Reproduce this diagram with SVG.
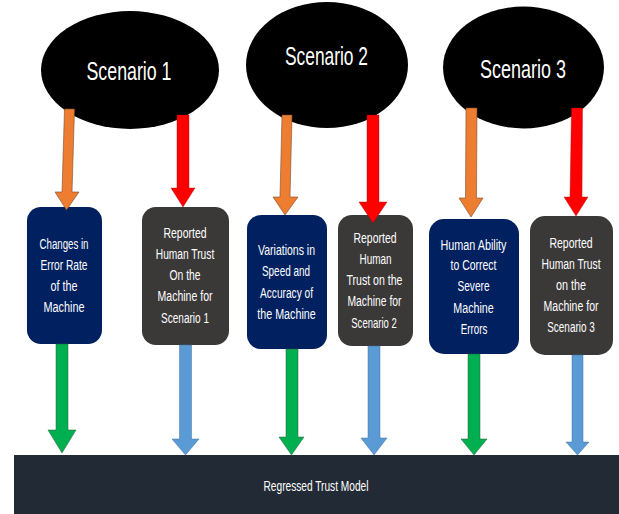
<svg xmlns="http://www.w3.org/2000/svg" width="619" height="514" viewBox="0 0 619 514">
<style>
.ell{fill:#000}
.sc{font-family:"Liberation Sans",Arial,sans-serif;font-size:26px;fill:#fff;text-anchor:middle}
.bt{font-family:"Liberation Sans",Arial,sans-serif;font-size:15.5px;fill:#fff;text-anchor:middle}
.navy{fill:#002060}
.gray{fill:#3B3838}
.or{fill:#ED7D31;stroke:#7a4a2a;stroke-width:0.6}
.rd{fill:#FF0000;stroke:#a00;stroke-width:0.4}
.gr{fill:#00B050;stroke:#2a5a3a;stroke-width:0.5}
.bl{fill:#5B9BD5;stroke:#41719C;stroke-width:0.5}
</style>
<rect width="619" height="514" fill="#fff"/>
<g id="scenario1"><ellipse class="ell" cx="130" cy="70" rx="89" ry="59"/><text class="sc" x="129" y="80" textLength="85" lengthAdjust="spacingAndGlyphs">Scenario 1</text></g>
<g id="scenario2"><ellipse class="ell" cx="327" cy="65" rx="81" ry="63"/><text class="sc" x="326.5" y="65" textLength="83" lengthAdjust="spacingAndGlyphs">Scenario 2</text></g>
<g id="scenario3"><ellipse class="ell" cx="523.5" cy="67.5" rx="80.5" ry="61"/><text class="sc" x="523" y="78" textLength="86" lengthAdjust="spacingAndGlyphs">Scenario 3</text></g>

<g id="box1"><rect class="navy" x="27" y="207" width="75" height="137" rx="14"/>
<g transform="translate(64,0) scale(0.66,1)">
<text class="bt" x="0" y="249" textLength="74.2" lengthAdjust="spacingAndGlyphs">Changes in</text>
<text class="bt" x="0" y="270" textLength="71.2" lengthAdjust="spacingAndGlyphs">Error Rate</text>
<text class="bt" x="0" y="291.5" textLength="40.9" lengthAdjust="spacingAndGlyphs">of the</text>
<text class="bt" x="0" y="312.5" textLength="62.1" lengthAdjust="spacingAndGlyphs">Machine</text></g></g>

<g id="box2"><rect class="gray" x="142" y="207" width="87" height="138" rx="14"/>
<g transform="translate(185,0) scale(0.66,1)">
<text class="bt" x="0" y="238" textLength="65.2" lengthAdjust="spacingAndGlyphs">Reported</text>
<text class="bt" x="0" y="259.5" textLength="88.6" lengthAdjust="spacingAndGlyphs">Human Trust</text>
<text class="bt" x="0" y="280.5" textLength="47" lengthAdjust="spacingAndGlyphs">On the</text>
<text class="bt" x="0" y="301.5" textLength="83.3" lengthAdjust="spacingAndGlyphs">Machine for</text>
<text class="bt" x="0" y="323" textLength="72.7" lengthAdjust="spacingAndGlyphs">Scenario 1</text></g></g>

<g id="box3"><rect class="navy" x="247" y="215" width="80" height="134" rx="14"/>
<g transform="translate(286.5,0) scale(0.66,1)">
<text class="bt" x="0" y="255" textLength="86.4" lengthAdjust="spacingAndGlyphs">Variations in</text>
<text class="bt" x="-0.8" y="276.5" textLength="72.7" lengthAdjust="spacingAndGlyphs">Speed and</text>
<text class="bt" x="0" y="298" textLength="80.3" lengthAdjust="spacingAndGlyphs">Accuracy of</text>
<text class="bt" x="0" y="319" textLength="88.6" lengthAdjust="spacingAndGlyphs">the Machine</text></g></g>

<g id="box4"><rect class="gray" x="338" y="215" width="75" height="131" rx="14"/>
<g transform="translate(375,0) scale(0.66,1)">
<text class="bt" x="0" y="243" textLength="65.2" lengthAdjust="spacingAndGlyphs">Reported</text>
<text class="bt" x="0.8" y="264" textLength="48.5" lengthAdjust="spacingAndGlyphs">Human</text>
<text class="bt" x="-0.8" y="285.5" textLength="84.8" lengthAdjust="spacingAndGlyphs">Trust on the</text>
<text class="bt" x="-0.8" y="306.5" textLength="81.8" lengthAdjust="spacingAndGlyphs">Machine for</text>
<text class="bt" x="-1.5" y="328" textLength="68.9" lengthAdjust="spacingAndGlyphs">Scenario 2</text></g></g>

<g id="box5"><rect class="navy" x="429" y="219" width="90" height="135" rx="15"/>
<g transform="translate(473.5,0) scale(0.66,1)">
<text class="bt" x="0" y="250" textLength="100" lengthAdjust="spacingAndGlyphs">Human Ability</text>
<text class="bt" x="0" y="270.5" textLength="69.7" lengthAdjust="spacingAndGlyphs">to Correct</text>
<text class="bt" x="0" y="291.5" textLength="48.5" lengthAdjust="spacingAndGlyphs">Severe</text>
<text class="bt" x="0" y="313" textLength="61.4" lengthAdjust="spacingAndGlyphs">Machine</text>
<text class="bt" x="0.8" y="334" textLength="40.2" lengthAdjust="spacingAndGlyphs">Errors</text></g></g>

<g id="box6"><rect class="gray" x="530" y="216" width="83" height="139" rx="15"/>
<g transform="translate(571,0) scale(0.66,1)">
<text class="bt" x="0" y="248" textLength="65.2" lengthAdjust="spacingAndGlyphs">Reported</text>
<text class="bt" x="0" y="269" textLength="89.4" lengthAdjust="spacingAndGlyphs">Human Trust</text>
<text class="bt" x="0" y="290.5" textLength="45.5" lengthAdjust="spacingAndGlyphs">on the</text>
<text class="bt" x="0" y="311.5" textLength="83.3" lengthAdjust="spacingAndGlyphs">Machine for</text>
<text class="bt" x="0" y="332.5" textLength="72" lengthAdjust="spacingAndGlyphs">Scenario 3</text></g></g>

<g id="model"><rect x="14" y="455" width="610" height="62" fill="#222A35"/>
<text class="bt" x="316" y="491" font-size="14" textLength="105" lengthAdjust="spacingAndGlyphs">Regressed Trust Model</text></g>

<g id="connectors">
<polygon class="or" points="64.5,109 74.5,109 72,192 79,192 66.5,210 55,192 62,192"/>
<polygon class="rd" points="177,115 189,115 189,188 195,188 183,207 171,188 177,188"/>
<polygon class="or" points="282,115 292,115 290,197 298,197 285,215 273,197 280,197"/>
<polygon class="rd" points="367,115 379,115 379,202 387,202 373,223 359,202 367,202"/>
<polygon class="or" points="466,108 477,108 476.5,198 483,198 471,217 459,198 465.5,198"/>
<polygon class="rd" points="571.5,108 582.5,108 582,197 588,197 576,216 564,197 570,197"/>
<polygon class="gr" points="56,344 68,344 68,430 76,430 62,453 48,430 56,430"/>
<polygon class="bl" points="179.5,345 191.5,345 191.5,439 199,439 185.5,455 172,439 179.5,439"/>
<polygon class="gr" points="286,349 298,349 298,437 304,437 291.5,455 279,437 286,437"/>
<polygon class="bl" points="368,346 380,346 380,438 387,438 374,455 361,438 368,438"/>
<polygon class="gr" points="468,354 480,354 480,439 487,439 474,455 461,439 468,439"/>
<polygon class="bl" points="572,355 583,355 583,442 589,442 577.5,455 566,442 572,442"/>
</g>
</svg>
